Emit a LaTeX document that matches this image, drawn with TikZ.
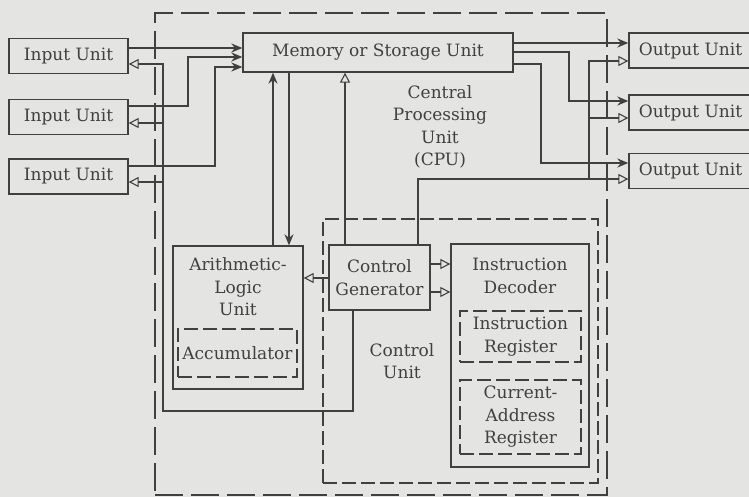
\documentclass[tikz,border=0pt]{standalone}
\usepackage{fontspec}
\setmainfont{DejaVu Serif}
\usetikzlibrary{arrows.meta}
\definecolor{paper}{HTML}{E4E4E2}
\definecolor{ink}{HTML}{404040}

\begin{document}
\begin{tikzpicture}[x=1pt, y=-1pt, every node/.style={font=\fontsize{17}{22.5}\selectfont, text=ink, align=center},
	unit/.style={draw=ink, line width=1.3pt, inner sep=0pt},
	dunit/.style={unit, dash pattern=on 14pt off 5pt},
	data/.style={draw=ink, line width=2.4pt, -{Stealth[length=11pt, width=9pt]}},
	ctrl/.style={draw=ink, line width=2.4pt, -{Triangle[open, length=10pt, width=10pt, line width=1.1pt]}}]
	\path[use as bounding box, fill=paper] (0,0) rectangle (749,497);
	\clip (0,0) rectangle (749,497);
	\node[dunit, dash pattern=on 28pt off 8pt, minimum width=452pt, minimum height=482pt] (cpu) at (381,254) {};
	\node (cpulbl) at (440,127) {Central\\Processing\\Unit\\(CPU)};
	\foreach \n/\y in {1/56,2/117,3/176.5} \node[unit, minimum width=119pt, minimum height=35pt] (in\n) at (68.5,\y) {Input Unit};
	\foreach \n/\y in {1/50.5,2/112.5,3/171} \node[unit, minimum width=123pt, minimum height=35pt] (out\n) at (690.5,\y) {Output Unit};
	\node[unit, minimum width=270pt, minimum height=39pt] (mem) at (378,52.5) {Memory or Storage Unit};
	\node[unit, minimum width=130pt, minimum height=143pt] (alu) at (238,317.5) {};
	\node (alulbl) at (238,287) {Arithmetic-\\Logic\\Unit};
	\node[dunit, minimum width=119pt, minimum height=48pt] (acc) at (237.5,353) {Accumulator};
	\node[dunit, minimum width=275pt, minimum height=264pt] (cu) at (460.5,351) {};
	\node (culbl) at (402,361) {Control\\Unit};
	\node[unit, minimum width=101pt, minimum height=65pt] (cg) at (379.5,277.5) {Control\\Generator};
	\node[unit, minimum width=138pt, minimum height=223pt] (id) at (520,355.5) {};
	\node (idlbl) at (520,276) {Instruction\\Decoder};
	\node[dunit, minimum width=121pt, minimum height=51pt] (ir) at (520.5,336.5) {Instruction\\Register};
	\node[dunit, minimum width=121pt, minimum height=74pt] (car) at (520.5,417) {Current-\\Address\\Register};
	\draw[data] (in1.east |- 0,48) -- (mem.west |- 0,48);
	\draw[data] (in2.east |- 0,106) -| (188,57) -- (mem.west |- 0,57);
	\draw[data] (in3.east |- 0,166) -| (215,67) -- (mem.west |- 0,67);
	\draw[data] (mem.east |- 0,43) -- (out1.west |- 0,43);
	\draw[data] (mem.east |- 0,52) -| (569,101) -- (out2.west |- 0,101);
	\draw[data] (mem.east |- 0,64) -| (541,163) -- (out3.west |- 0,163);
	\draw[data] (alu.north -| 273,0) -- (mem.south -| 273,0);
	\draw[data] (mem.south -| 289,0) -- (alu.north -| 289,0);
	\draw[ctrl] (cg.north -| 345,0) -- (mem.south -| 345,0);
	\draw[ctrl] (cg.north -| 418,0) |- (out3.west |- 0,179);
	\draw[ctrl] (589,179) |- (out1.west |- 0,61);
	\draw[ctrl] (589,118) -- (out2.west |- 0,118);
	\draw[ctrl] (cg.west |- 0,278) -- (alu.east |- 0,278);
	\foreach \y in {264,292} \draw[ctrl] (cg.east |- 0,\y) -- (id.west |- 0,\y);
	\draw[ctrl] (cg.south -| 353,0) |- (163,411) |- (in1.east |- 0,64);
	\foreach \n/\y in {2/123,3/182} \draw[ctrl] (163,\y) -- (in\n.east |- 0,\y);
\end{tikzpicture}
\end{document}
